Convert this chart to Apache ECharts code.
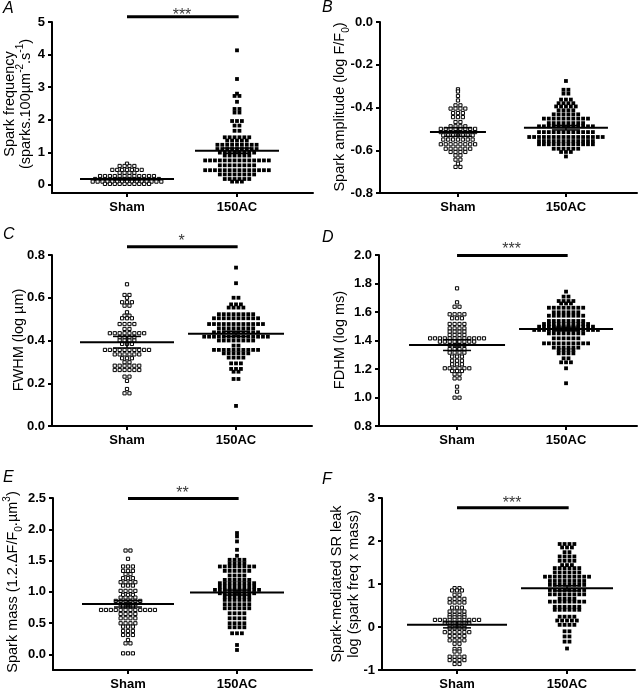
<!DOCTYPE html>
<html><head><meta charset="utf-8">
<script src="https://cdn.jsdelivr.net/npm/echarts@6/dist/echarts.min.js"></script>
<style>html,body{margin:0;padding:0;background:#fff}#c{width:642px;height:690px}</style>
</head><body><div id="c"></div>
<script>
// ---------- DATA ----------
const categories = ['Sham', '150AC'];
const panelLetters = ['A', 'B', 'C', 'D', 'E', 'F'];

const shamA = [0.65,
0.58,0.58,0.58,0.58,
0.46,0.46,0.46,0.46,0.46,0.46,0.46,
0.37,0.37,0.37,0.37,
0.27,0.27,0.27,0.27,0.27,0.27,0.27,0.27,0.27,0.27,0.27,0.27,
0.18,0.18,0.18,0.18,0.18,0.18,0.18,0.18,0.18,0.18,0.18,0.18,0.18,0.18,
0.10,0.10,0.10,0.10,0.10,0.10,0.10,0.10,0.10,0.10,0.10,0.10,0.10,0.10,0.10,
0.03,0.03,0.03,0.03,0.03,0.03,0.03,0.03,0.03,0.03];
const acA = [4.13, 3.25, 2.80, 2.73,2.73, 2.55, 2.33,2.33, 2.22,2.22, 1.96,1.96,1.96, 1.82,1.82, 1.66,1.66,
1.46,1.46,1.46,1.46,1.46,1.46,
1.36,1.36,1.36,1.36,1.36,
1.23,1.23,1.23,1.23,1.23,1.23,1.23,1.23,1.23,
1.10,1.10,1.10,1.10,1.10,1.10,1.10,1.10,1.10,
0.99,0.99,0.99,0.99,0.99,0.99,0.99,0.99,
0.90,0.90,0.90,0.90,0.90,0.90,
0.75,0.75,0.75,0.75,0.75,0.75,0.75,0.75,0.75,0.75,0.75,0.75,0.75,0.75,
0.60,0.60,0.60,0.60,0.60,0.60,0.60,0.60,
0.45,0.45,0.45,0.45,0.45,0.45,0.45,0.45,0.45,0.45,0.45,0.45,0.45,0.45,
0.32,0.32,0.32,0.32,0.32,0.32,0.32,0.32,
0.18,0.18,0.18,0.18,0.18,0.18,
0.10,0.10,0.10];

const shamB = [-0.315, -0.325, -0.346, -0.367, -0.39,-0.39,
-0.405,-0.405,-0.405,-0.405, -0.426,-0.426,-0.426, -0.445,-0.445,-0.445, -0.468,-0.468,
-0.488,-0.488,-0.488,-0.488,
-0.50,-0.50,-0.50,-0.50,-0.50,-0.50,-0.50,-0.50,
-0.515,-0.515,-0.515,-0.515,-0.515,-0.515,-0.515,-0.515,
-0.53,-0.53,-0.53,-0.53,-0.53,-0.53,-0.53,
-0.55,-0.55,-0.55,-0.55,-0.55,-0.55,-0.55,
-0.572,-0.572,-0.572,-0.572,-0.572,-0.572,-0.572,-0.572,
-0.593,-0.593,-0.593,-0.593,-0.593,-0.593,
-0.608,-0.608,-0.608,-0.608, -0.624,-0.624, -0.644,-0.644, -0.663, -0.678,-0.678];
const acB = [-0.276, -0.317,-0.317, -0.335,-0.335, -0.363,-0.363,-0.363,
-0.38,-0.38,-0.38,-0.38, -0.395,-0.395,-0.395,-0.395,-0.395, -0.413,-0.413,-0.413,-0.413,
-0.432,-0.432,-0.432,-0.432,-0.432,-0.432,
-0.452,-0.452,-0.452,-0.452,-0.452,-0.452,-0.452,-0.452,-0.452,-0.452,
-0.473,-0.473,-0.473,-0.473,-0.473,-0.473,-0.473,-0.473,
-0.488,-0.488,-0.488,-0.488,-0.488,-0.488,-0.488,-0.488,-0.488,-0.488,-0.488,-0.488,
-0.515,-0.515,-0.515,-0.515,-0.515,-0.515,-0.515,-0.515,-0.515,-0.515,-0.515,-0.515,
-0.538,-0.538,-0.538,-0.538,-0.538,-0.538,-0.538,-0.538,-0.538,-0.538,-0.538,-0.538,-0.538,-0.538,-0.538,-0.538,
-0.557,-0.557,-0.557,-0.557,-0.557,-0.557,-0.557,-0.557,-0.557,-0.557,-0.557,-0.557,
-0.572,-0.572,-0.572,-0.572,-0.572,-0.572,-0.572,-0.572,-0.572,-0.572,-0.572,-0.572,
-0.593,-0.593,-0.593,-0.593,-0.593,-0.593, -0.608,-0.608,-0.608, -0.629];

const shamC = [0.663, 0.613,0.613, 0.60, 0.579,0.579,0.579, 0.563,0.563, 0.532, 0.516,0.516,
0.504,0.504,0.504, 0.477,0.477,0.477,0.477, 0.454,0.454,
0.434,0.434,0.434,0.434,0.434,0.434,0.434,0.434,
0.415,0.415,0.415,0.415, 0.40,0.40,0.40,0.40, 0.384,0.384,0.384,
0.356,0.356,0.356,0.356,0.356,0.356,0.356,0.356,0.356,0.356,
0.335,0.335,0.335,0.335,0.335,0.335, 0.317,0.317,0.317, 0.298,0.298,
0.282,0.282,0.282,0.282,0.282,0.282, 0.262,0.262,0.262,0.262,0.262,0.262,
0.231,0.231, 0.211, 0.173, 0.153,0.153];
const acC = [0.741, 0.668, 0.60,0.60, 0.569,0.569,0.569, 0.554,0.554,0.554,0.554,
0.523,0.523,0.523,0.523,0.523,0.523,0.523,0.523,
0.504,0.504,0.504,0.504,0.504,0.504,0.504,0.504,0.504,0.504,
0.477,0.477,0.477,0.477,0.477,0.477,0.477,0.477,0.477,0.477,0.477,0.477,
0.457,0.457,0.457,0.457,0.457,0.457,0.457,0.457,
0.438,0.438,0.438,0.438,0.438,0.438,0.438,0.438,0.438,0.438,
0.418,0.418,0.418,0.418,0.418,0.418,0.418,0.418,0.418,0.418,0.418,0.418,0.418,0.418,
0.40,0.40,0.40,0.40,0.40,0.40,0.40,0.40, 0.376,0.376,
0.356,0.356,0.356,0.356,0.356,0.356,0.356,0.356,0.356,0.356,
0.34,0.34,0.34,0.34,0.34,0.34, 0.32,0.32,0.32,0.32, 0.293,0.293,0.293,
0.267,0.267,0.267, 0.254,0.254, 0.22,0.22, 0.094];

const shamD = [1.766, 1.668, 1.637,1.637, 1.584,1.584,1.584,1.584, 1.556,1.556,1.556,
1.516,1.516,1.516,1.516, 1.485,1.485,1.485,1.485, 1.462,1.462,1.462,1.462, 1.439,1.439,1.439,1.439,
1.415,1.415,1.415,1.415,1.415,1.415,1.415,1.415,1.415,1.415,1.415,1.415,
1.392,1.392,1.392,1.392,1.392,1.392,1.392,1.392, 1.368,1.368,1.368,1.368,
1.34,1.34,1.34,1.34, 1.315,1.315,1.315,1.315, 1.287,1.287,1.287, 1.258,1.258,1.258,
1.233,1.233,1.233, 1.205,1.205,1.205,1.205,1.205,1.205, 1.186,1.186,1.186,
1.163,1.163, 1.134,1.134, 1.076, 1.041, 0.999,0.999];
const acD = [1.743, 1.708,1.708, 1.677,1.677,1.677,1.677, 1.66,1.66,1.66,
1.63,1.63,1.63,1.63,1.63,1.63,1.63,1.63, 1.598,1.598,1.598,1.598,1.598,1.598,
1.574,1.574,1.574,1.574,1.574,1.574,1.574,1.574,
1.537,1.537,1.537,1.537,1.537,1.537,1.537,1.537,
1.516,1.516,1.516,1.516,1.516,1.516,1.516,1.516,1.516,1.516,
1.497,1.497,1.497,1.497,1.497,1.497,1.497,1.497,1.497,1.497,1.497,1.497,
1.474,1.474,1.474,1.474,1.474,1.474,1.474,1.474,1.474,1.474,1.474,1.474,1.474,1.474,
1.45,1.45,1.45,1.45,1.45,1.45,1.45,1.45, 1.415,1.415,1.415,1.415,1.415,1.415,
1.38,1.38,1.38,1.38,1.38,1.38,1.38,1.38,1.38,1.38, 1.35,1.35,1.35,1.35,1.35,1.35,
1.333,1.333,1.333,1.333, 1.31,1.31,1.31,1.31, 1.275,1.275, 1.247,1.247,1.247, 1.205, 1.10];

const shamE = [1.66,1.66, 1.528, 1.405,1.405,1.405, 1.335,1.335,1.335, 1.282,1.282, 1.218,1.218,1.218,
1.154,1.154,1.154,1.154, 1.10,1.10,1.10, 1.015,1.015,1.015,1.015, 0.951,0.951,0.951,
0.908,0.908,0.908,0.908, 0.855,0.855,0.855,0.855,0.855,0.855, 0.801,0.801,0.801,0.801, 0.764,0.764,0.764,
0.71,0.71,0.71,0.71,0.71,0.71,0.71,0.71,0.71,0.71,0.71,0.71,
0.646,0.646,0.646,0.646, 0.577,0.577,0.577,0.577, 0.497,0.497,0.497,0.497, 0.443,0.443,0.443,
0.374,0.374,0.374, 0.31,0.31,0.31, 0.23, 0.176,0.176, 0.016,0.016,0.016];
const acE = [1.94, 1.886, 1.806, 1.672, 1.576, 1.512,1.512,1.512,1.512, 1.458,1.458,1.458,1.458,
1.405,1.405,1.405,1.405,1.405,1.405,1.405,1.405, 1.335,1.335,1.335,1.335,1.335,1.335,
1.26,1.26,1.26,1.26, 1.191,1.191,1.191,1.191,1.191,1.191,
1.138,1.138,1.138,1.138,1.138,1.138,1.138,1.138, 1.084,1.084,1.084,1.084,1.084,1.084,1.084,1.084,
1.031,1.031,1.031,1.031,1.031,1.031,1.031,1.031,1.031,1.031,
0.977,0.977,0.977,0.977,0.977,0.977,0.977,0.977, 0.924,0.924,0.924,0.924,0.924,0.924,
0.871,0.871,0.871,0.871,0.871,0.871, 0.801,0.801,0.801,0.801,0.801,0.801,
0.737,0.737,0.737,0.737,0.737,0.737, 0.657,0.657,0.657,0.657, 0.577,0.577,0.577,0.577,
0.497,0.497,0.497,0.497, 0.433,0.433,0.433,0.433, 0.337,0.337,0.337, 0.15, 0.07];

const shamF = [0.903,0.903, 0.85,0.85,0.85, 0.75,0.75, 0.655,0.655,0.655,0.655, 0.57,0.57,0.57,0.57,
0.45,0.45,0.45, 0.36,0.36,0.36,0.36, 0.28,0.28,0.28,0.28, 0.225,0.225,0.225,0.225,
0.165,0.165,0.165,0.165,0.165,0.165,0.165,0.165,0.165,0.165,
0.10,0.10,0.10,0.10,0.10,0.10, 0.03,0.03,0.03,0.03, -0.03,-0.03,-0.03,-0.03,
-0.12,-0.12,-0.12,-0.12,-0.12,-0.12, -0.21,-0.21,-0.21,-0.21, -0.31,-0.31,-0.31,-0.31,
-0.39,-0.39, -0.51,-0.51, -0.57,-0.57, -0.69,-0.69,-0.69,-0.69, -0.77,-0.77,-0.77,-0.77, -0.86,-0.86];
const acF = [1.93,1.93,1.93,1.93, 1.85,1.85,1.85, 1.74,1.74, 1.64,1.64,1.64,1.64, 1.54,1.54,1.54,1.54,
1.44,1.44,1.44, 1.37,1.37,1.37,1.37,1.37,1.37, 1.27,1.27,1.27,1.27,1.27,1.27,
1.17,1.17,1.17,1.17,1.17,1.17,1.17,1.17,1.17,1.17, 1.07,1.07,1.07,1.07,1.07,1.07,1.07,1.07,
0.98,0.98,0.98,0.98,0.98,0.98,0.98,0.98, 0.86,0.86,0.86,0.86,0.86,0.86,0.86,0.86,
0.76,0.76,0.76,0.76,0.76,0.76,0.76,0.76, 0.66,0.66,0.66,0.66,
0.59,0.59,0.59,0.59,0.59,0.59,0.59,0.59, 0.47,0.47,0.47,0.47,0.47,0.47,
0.40,0.40,0.40,0.40,0.40,0.40, 0.24,0.24,0.24,0.24, 0.15,0.15,0.15,0.15,0.15,
0.05,0.05,0.05,0.05, -0.10,-0.10, -0.22,-0.22, -0.34,-0.34, -0.50];

// means and SEM [Sham, 150AC]
const meanA = [0.18, 1.05],   semA = [0.02, 0.08];
const meanB = [-0.515, -0.495], semB = [0.02, 0.01];
const meanC = [0.392, 0.431], semC = [0.027, 0.012];
const meanD = [1.368, 1.481], semD = [0.038, 0.013];
const meanE = [0.807, 0.988], semE = [0.05, 0.04];
const meanF = [0.05, 0.90],   semF = [0.07, 0.06];

// y tick values
const yTicksA = [0, 1, 2, 3, 4, 5];
const yTicksB = [-0.8, -0.6, -0.4, -0.2, 0.0];
const yTicksC = [0.0, 0.2, 0.4, 0.6, 0.8];
const yTicksD = [0.8, 1.0, 1.2, 1.4, 1.6, 1.8, 2.0];
const yTicksE = [0.0, 0.5, 1.0, 1.5, 2.0, 2.5];
const yTicksF = [-1, 0, 1, 2, 3];
const yDecimals = [0, 1, 1, 1, 1, 0];

const sigLabels = ['***', '', '*', '***', '**', '***'];

const yTitleText = [
  ['Spark frequency', '(sparks.100µm{sup|-2}.s{sup|-1})'],
  ['Spark amplitude (log F/F{sub|0})'],
  ['FWHM (log µm)'],
  ['FDHM (log ms)'],
  ['Spark mass (1.2.ΔF/F{sub|0}.µm{sup|3})'],
  ['Spark-mediated SR leak', 'log (spark freq x mass)']
];

// ---------- LAYOUT / STYLE ----------
const FONT = '"Liberation Sans", Arial, Helvetica, sans-serif';
const layout = [
  {left:52,  top:22,  width:261, height:171, xMin:-0.682, xMax:1.691, yMin:-0.25, yMax:5,   sigBarY:5.163, sigLabelY:5.21},
  {left:380, top:22,  width:257, height:171, xMin:-0.722, xMax:1.658, yMin:-0.8,  yMax:0},
  {left:52,  top:255, width:260, height:171, xMin:-0.688, xMax:1.697, yMin:0,     yMax:0.8, sigBarY:0.839, sigLabelY:0.865},
  {left:379, top:255, width:258, height:171, xMin:-0.716, xMax:1.651, yMin:0.8,   yMax:2.0, sigBarY:1.996, sigLabelY:2.04},
  {left:53,  top:498, width:259, height:172, xMin:-0.688, xMax:1.688, yMin:-0.25, yMax:2.5, sigBarY:2.492, sigLabelY:2.57},
  {left:382, top:498, width:253, height:172, xMin:-0.682, xMax:1.618, yMin:-1,    yMax:3,   sigBarY:2.775, sigLabelY:2.88}
];
const meanHalfW = [[47,42],[28,42],[47,48],[48,47],[46,47],[50,46]];
const CAP = 14;
const STEP = 4.9;
const letterPos = [[3,1],[322,0],[3,227],[322,230],[3,470],[322,472]];
const yTitlePos = [[[10,104],[26,104]], [[340,107]], [[19,340]], [[340,340]], [[13,582]], [[337,584],[354,584]]];

const shams = [shamA, shamB, shamC, shamD, shamE, shamF];
const acs = [acA, acB, acC, acD, acE, acF];
const means = [meanA, meanB, meanC, meanD, meanE, meanF];
const sems = [semA, semB, semC, semD, semE, semF];
const yTicks = [yTicksA, yTicksB, yTicksC, yTicksD, yTicksE, yTicksF];

function swarm(values, center, pxPerUnitX) {
  const groups = new Map();
  values.forEach(v => {
    const k = v.toFixed(4);
    if (!groups.has(k)) groups.set(k, []);
    groups.get(k).push(v);
  });
  const out = [];
  groups.forEach(arr => {
    const n = arr.length;
    arr.forEach((v, i) => out.push([center + (i - (n - 1) / 2) * STEP / pxPerUnitX, v]));
  });
  return out;
}

function meanRender(halfWidths) {
  return function (params, api) {
    const x = api.value(0), m = api.value(1), s = api.value(2);
    const c = api.coord([x, m]), t = api.coord([x, m + s]), b = api.coord([x, m - s]);
    const hw = halfWidths[params.dataIndex];
    const thin = {stroke: '#000', lineWidth: 1.5};
    return {type: 'group', children: [
      {type: 'line', shape: {x1: c[0] - hw, y1: c[1], x2: c[0] + hw, y2: c[1]}, style: {stroke: '#000', lineWidth: 2}},
      {type: 'line', shape: {x1: c[0], y1: t[1], x2: c[0], y2: b[1]}, style: thin},
      {type: 'line', shape: {x1: c[0] - CAP, y1: t[1], x2: c[0] + CAP, y2: t[1]}, style: thin},
      {type: 'line', shape: {x1: c[0] - CAP, y1: b[1], x2: c[0] + CAP, y2: b[1]}, style: thin}
    ]};
  };
}

const grids = [], xAxes = [], yAxes = [], series = [], graphics = [];
layout.forEach((L, i) => {
  grids.push({left: L.left, top: L.top, width: L.width, height: L.height, outerBoundsMode: 'none'});
  xAxes.push({
    type: 'value', gridIndex: i, min: L.xMin, max: L.xMax,
    splitLine: {show: false},
    axisLine: {onZero: false, lineStyle: {color: '#000', width: 2}},
    axisTick: {customValues: [0, 1], length: 4, lineStyle: {color: '#000', width: 2}},
    axisLabel: {customValues: [0, 1], formatter: v => categories[Math.round(v)], color: '#000',
      fontWeight: 'bold', fontSize: 13, fontFamily: FONT, margin: 8}
  });
  yAxes.push({
    type: 'value', gridIndex: i, min: L.yMin, max: L.yMax,
    splitLine: {show: false},
    axisLine: {onZero: false, lineStyle: {color: '#000', width: 2}},
    axisTick: {customValues: yTicks[i], length: 4, lineStyle: {color: '#000', width: 2}},
    axisLabel: {customValues: yTicks[i], formatter: v => Number(v).toFixed(yDecimals[i]), color: '#000',
      fontWeight: 700, fontSize: 13, fontFamily: FONT, margin: 7}
  });
  const ppx = L.width / (L.xMax - L.xMin);
  series.push({
    type: 'scatter', xAxisIndex: i, yAxisIndex: i, symbol: 'rect', symbolSize: 3.2,
    itemStyle: {color: '#fff', borderColor: '#000', borderWidth: 1, opacity: 1},
    data: swarm(shams[i], 0, ppx), silent: true
  });
  series.push({
    type: 'scatter', xAxisIndex: i, yAxisIndex: i, symbol: 'rect', symbolSize: 3.8,
    itemStyle: {color: '#000', opacity: 1},
    data: swarm(acs[i], 1, ppx), silent: true
  });
  series.push({
    type: 'custom', xAxisIndex: i, yAxisIndex: i, z: 5, silent: true,
    renderItem: meanRender(meanHalfW[i]),
    encode: {x: 0, y: 1},
    data: [[0, means[i][0], sems[i][0]], [1, means[i][1], sems[i][1]]]
  });
  if (sigLabels[i]) {
    series.push({
      type: 'line', xAxisIndex: i, yAxisIndex: i, clip: false, symbol: 'none', silent: true,
      lineStyle: {color: '#000', width: 3, cap: 'butt'},
      data: [[0, L.sigBarY], [1.015, L.sigBarY]]
    });
    series.push({
      type: 'scatter', xAxisIndex: i, yAxisIndex: i, clip: false, symbol: 'circle', symbolSize: 1, silent: true,
      itemStyle: {color: 'rgba(0,0,0,0)'},
      label: {show: true, position: 'inside', formatter: sigLabels[i], color: '#000',
        fontSize: 16, fontFamily: FONT},
      data: [[0.5, L.sigLabelY]]
    });
  }
  graphics.push({
    type: 'text', x: letterPos[i][0], y: letterPos[i][1],
    style: {text: panelLetters[i], fill: '#000', fontSize: 16, fontStyle: 'italic', fontFamily: FONT,
      align: 'left', verticalAlign: 'top'}
  });
  yTitleText[i].forEach((t, j) => {
    graphics.push({
      type: 'text', x: yTitlePos[i][j][0], y: yTitlePos[i][j][1], rotation: Math.PI / 2,
      style: {text: t, fill: '#000', fontSize: 14.5, fontFamily: FONT, lineHeight: 22,
        align: 'center', verticalAlign: 'middle',
        rich: {
          sup: {fontSize: 10, fontFamily: FONT, verticalAlign: 'top', lineHeight: 22},
          sub: {fontSize: 10, fontFamily: FONT, verticalAlign: 'bottom', lineHeight: 22}
        }}
    });
  });
});

const chart = echarts.init(document.getElementById('c'), null, {renderer: 'canvas'});
chart.setOption({
  animation: false,
  backgroundColor: '#fff',
  textStyle: {fontFamily: FONT},
  grid: grids, xAxis: xAxes, yAxis: yAxes, series: series, graphic: graphics
});
</script></body></html>
